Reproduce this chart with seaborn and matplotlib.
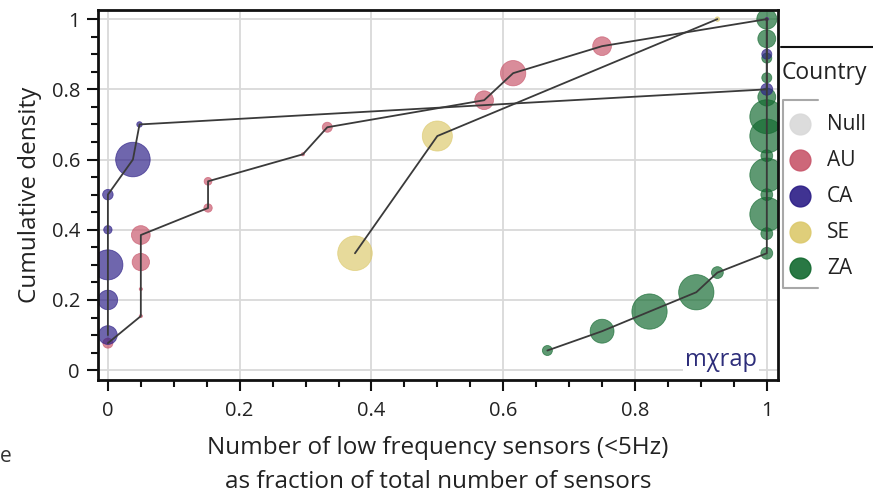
import numpy as np
import pandas as pd
import matplotlib
matplotlib.use("Agg")
import matplotlib.pyplot as plt
from matplotlib.lines import Line2D
from matplotlib.ticker import MultipleLocator, FixedLocator
import seaborn as sns

# Fraction of low-frequency sensors per station, cumulative density and sensor counts
au_frac = [0.0, 0.05, 0.05, 0.05, 0.05, 0.152, 0.152, 0.296, 0.333, 0.571, 0.615, 0.75, 1.0]
au_dens = [0.077, 0.154, 0.231, 0.308, 0.385, 0.462, 0.538, 0.615, 0.692, 0.769, 0.846, 0.923, 1.0]
au_sensors = [10, 1, 1, 30, 35, 7, 6, 1, 10, 35, 64, 35, 1]

ca_frac = [0.0, 0.0, 0.0, 0.0, 0.0, 0.038, 0.048, 1.0, 1.0, 1.0]
ca_dens = [0.1, 0.2, 0.3, 0.4, 0.5, 0.6, 0.7, 0.8, 0.9, 1.0]
ca_sensors = [35, 38, 90, 7, 11, 119, 3, 14, 10, 1]

se_frac = [0.375, 0.5, 0.925]
se_dens = [0.333, 0.667, 1.0]
se_sensors = [119, 90, 2]

za_frac = [0.667, 0.75, 0.822, 0.893, 0.925, 1.0, 1.0, 1.0, 1.0, 1.0,
           1.0, 1.0, 1.0, 1.0, 1.0, 1.0, 1.0, 1.0]
za_dens = [0.056, 0.111, 0.167, 0.222, 0.278, 0.333, 0.389, 0.444, 0.5, 0.556,
           0.611, 0.667, 0.722, 0.778, 0.833, 0.889, 0.944, 1.0]
za_sensors = [10, 57, 124, 124, 14, 14, 14, 115, 14, 115,
              14, 115, 115, 32, 10, 10, 32, 40]

legend_levels = ["Null", "AU", "CA", "SE", "ZA"]
colors = ["#d9d9d9", "#c8566b", "#2b1d86", "#dcc96c", "#12692f"]
palette = dict(zip(legend_levels, colors))

x_ticks = [0, 0.2, 0.4, 0.6, 0.8, 1.0]
x_tick_labels = ["0", "0.2", "0.4", "0.6", "0.8", "1"]
y_ticks = [0, 0.2, 0.4, 0.6, 0.8, 1.0]
y_tick_labels = ["0", "0.2", "0.4", "0.6", "0.8", "1"]

frames = []
for name, xs, ys, ns in [("ZA", za_frac, za_dens, za_sensors),
                         ("SE", se_frac, se_dens, se_sensors),
                         ("AU", au_frac, au_dens, au_sensors),
                         ("CA", ca_frac, ca_dens, ca_sensors)]:
    frames.append(pd.DataFrame({"country": name, "frac": xs, "density": ys, "sensors": ns}))
df = pd.concat(frames, ignore_index=True)

sns.set_theme(style="white")
plt.rcParams["font.family"] = ["Open Sans", "DejaVu Sans"]

W, H = 873, 495
fig = plt.figure(figsize=(W / 100, H / 100), dpi=100)
ax = fig.add_axes([98 / W, 1 - 380 / H, 680 / W, 370 / H])

n_max = 130
sns.scatterplot(data=df, x="frac", y="density", hue="country", palette=palette,
                size="sensors", sizes=(0, n_max * 5.2), size_norm=(0, n_max),
                alpha=0.68, edgecolor="face", linewidth=0.6, legend=False,
                ax=ax, zorder=2)
sns.lineplot(data=df, x="frac", y="density", units="country", estimator=None,
             sort=False, color="#3a3a3a", lw=1.3, ax=ax, zorder=3)

ax.set_xlim(-0.015, 1.017)
ax.set_ylim(-0.028, 1.026)
ax.xaxis.set_major_locator(FixedLocator(x_ticks))
ax.set_xticklabels(x_tick_labels)
ax.yaxis.set_major_locator(FixedLocator(y_ticks))
ax.set_yticklabels(y_tick_labels)
ax.xaxis.set_minor_locator(MultipleLocator(0.05))
ax.yaxis.set_minor_locator(MultipleLocator(0.05))
ax.tick_params(which="major", direction="out", length=8, width=1.5, color="#111111",
               labelsize=14.5, labelcolor="#222222", bottom=True, left=True, pad=5)
ax.tick_params(axis="x", which="major", pad=7)
ax.tick_params(which="minor", direction="out", length=5, width=1.5, color="#111111",
               bottom=True, left=True)
ax.grid(True, which="major", color="#d9d9d9", lw=1.3, zorder=0)
ax.set_axisbelow(True)
for sp in ax.spines.values():
    sp.set_visible(True)
    sp.set_color("#111111")
    sp.set_linewidth(2.0)

ax.set_ylabel("Cumulative density", fontsize=17.5, color="#222222", labelpad=7)
ax.set_xlabel("Number of low frequency sensors (<5Hz)\nas fraction of total number of sensors",
              fontsize=17.5, color="#222222", labelpad=11, linespacing=1.55)

ax.text(0.969, 0.055, "m\u03c7rap", transform=ax.transAxes, ha="right", va="center",
        fontsize=17, color="#2d2d7a", zorder=5,
        bbox=dict(facecolor="white", edgecolor="none", pad=1.5))


# Legend block to the right of the axes
def fx(px):
    return px / W


def fy(py):
    return 1 - py / H


fig.add_artist(Line2D([fx(781), fx(873)], [fy(47), fy(47)], color="#111111", lw=1.5))
fig.text(fx(782), fy(73), "Country", fontsize=16.5, color="#222222", ha="left", va="center")
bracket = "#a8a8a8"
fig.add_artist(Line2D([fx(818), fx(783), fx(783), fx(818)],
                      [fy(100), fy(100), fy(288), fy(288)], color=bracket, lw=1.5))
row_y = [124, 160, 196, 232, 268]
for level, c, ry in zip(legend_levels, colors, row_y):
    fig.add_artist(Line2D([fx(800)], [fy(ry)], marker="o", ls="", markersize=15,
                          markerfacecolor=c, markeredgecolor=c, alpha=0.9))
    fig.text(fx(827), fy(ry), level, fontsize=15, color="#222222", ha="left", va="center")

fig.text(0, fy(456), "e", fontsize=15, color="#333333", ha="left", va="center")

fig.savefig("out.png", dpi=100)
